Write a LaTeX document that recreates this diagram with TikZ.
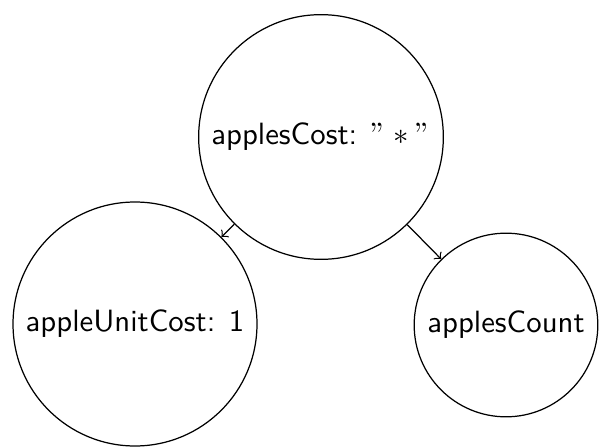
\documentclass[tikz,border=0pt]{standalone}
\usepackage{tikz}

\begin{document}
\begin{tikzpicture}[->,x=0.325pt,y=-0.325pt,main
node/.style={circle,draw,font=\sffamily}]
  \useasboundingbox (0,0) rectangle (600,447);

  \node[main node] (cost) at (321,137) {applesCost: $"*"$};
  \node[main node] (unit) at (135,324) {appleUnitCost: 1};
  \node[main node] (count) at (506,325) {applesCount};

  \path
    (cost) edge node {} (unit)
           edge node {} (count);
\end{tikzpicture}
\end{document}
